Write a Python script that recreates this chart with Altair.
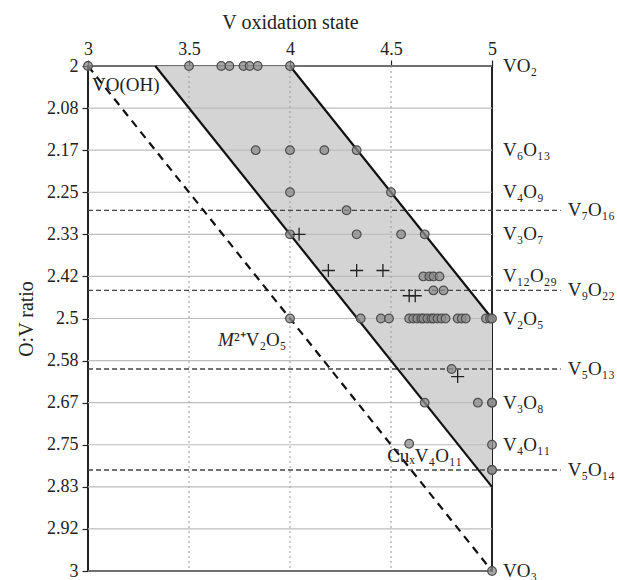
import altair as alt
import pandas as pd

FONT = "Liberation Serif"

# ---- axis ticks ----
y_ticks = [2.0, 2.0833, 2.1667, 2.25, 2.3333, 2.4167, 2.5, 2.5833, 2.6667, 2.75, 2.8333, 2.9167, 3.0]
x_ticks = [3, 3.5, 4, 4.5, 5]
x_dotted = [3.5, 4, 4.5]

# ---- circles (V oxidation state, O:V ratio) ----
circ_ox = [3.0, 3.5, 3.66, 3.70, 3.77, 3.80, 3.84, 4.0,
           3.83, 4.0, 4.17, 4.33,
           4.0, 4.5,
           4.28,
           4.0, 4.33, 4.55, 4.667,
           4.66, 4.69, 4.71, 4.74,
           4.71, 4.76,
           4.0, 4.35, 4.45, 4.49, 4.59, 4.61, 4.63, 4.65, 4.66, 4.68, 4.70, 4.71, 4.73, 4.75, 4.77,
           4.83, 4.85, 4.87, 4.97, 4.99, 5.0,
           4.80,
           4.667, 4.93, 5.0, 5.0,
           4.59, 5.0,
           5.0, 5.0,
           5.0]
circ_r = [2.0] * 8 + [2.1667] * 4 + [2.25] * 2 + [2.2857] + [2.3333] * 4 + [2.4167] * 4 + \
         [2.4444] * 2 + [2.5] * 21 + [2.6] + [2.6667] * 4 + [2.748, 2.75] + [2.8] * 2 + [3.0]

# ---- plus markers ----
plus_ox = [4.045, 4.19, 4.33, 4.46, 4.59, 4.62, 4.83]
plus_r = [2.3333, 2.405, 2.405, 2.405, 2.455, 2.455, 2.615]

# ---- shaded region ----
region_r = [2.0, 2.5, 2.8333]
region_left = [3.3333, 4.3333, 5.0]
region_right = [4.0, 5.0, 5.0]

# ---- boundary lines ----
bound_x1 = [3.3333, 4.0]
bound_r1 = [2.0, 2.0]
bound_x2 = [5.0, 5.0]
bound_r2 = [2.8333, 2.5]

mv_x1 = [3.0]
mv_r1 = [2.0]
mv_x2 = [5.0]
mv_r2 = [3.0]

# ---- labels ----
phase_labels = ["VO₂", "V₆O₁₃", "V₄O₉", "V₃O₇", "V₁₂O₂₉", "V₂O₅", "V₃O₈", "V₄O₁₁", "VO₃"]
phase_r = [2.0, 2.1667, 2.25, 2.3333, 2.4167, 2.5, 2.6667, 2.75, 3.0]

extra_labels = ["V₇O₁₆", "V₉O₂₂", "V₅O₁₃", "V₅O₁₄"]
extra_r = [2.2857, 2.4444, 2.6, 2.8]
extra_end = 5.34

xs = alt.Scale(domain=[3, 5], nice=False, zero=False)
ys = alt.Scale(domain=[2, 3], reverse=True, nice=False, zero=False)
xaxis = alt.Axis(orient="top", values=x_ticks, format="~g", title="V oxidation state",
                 grid=False, domain=False, labelFlush=False, labelOverlap=False,
                 labelPadding=2, titlePadding=8)
yaxis = alt.Axis(values=y_ticks, format=".3~r", title="O:V ratio", grid=False, domain=False,
                 labelFlush=False, labelOverlap=False, labelPadding=4, titlePadding=10)

X = alt.X("x:Q", scale=xs, axis=xaxis)
Y = alt.Y("y:Q", scale=ys, axis=yaxis)

df_region = pd.DataFrame({"y": region_r, "x": region_left, "x2": region_right})
area = alt.Chart(df_region).mark_area(orient="horizontal", color="#d4d4d4").encode(
    y=Y, x=X, x2="x2:Q")

df_grid = pd.DataFrame({"y": y_ticks, "x": [3] * len(y_ticks), "x2": [5] * len(y_ticks)})
grid = alt.Chart(df_grid).mark_rule(color="#bdbdbd", strokeWidth=1.2).encode(y=Y, x=X, x2="x2:Q")

df_dot = pd.DataFrame({"x": x_dotted, "y": [2] * 3, "y2": [3] * 3})
dots = alt.Chart(df_dot).mark_rule(color="#9a9a9a", strokeDash=[2, 3], strokeWidth=1).encode(
    x=X, y=Y, y2="y2:Q")

df_extra = pd.DataFrame({"y": extra_r, "x": [3] * 4, "x2": [extra_end] * 4, "label": extra_labels})
extra_lines = alt.Chart(df_extra).mark_rule(color="#444", strokeDash=[5, 3], strokeWidth=1.3).encode(
    y=Y, x=X, x2="x2:Q")
extra_text = alt.Chart(df_extra).mark_text(align="left", baseline="middle", dx=7, font=FONT,
                                           fontSize=19, color="#222").encode(
    x="x2:Q", y=Y, text="label:N")

df_bound = pd.DataFrame({"x": bound_x1, "y": bound_r1, "x2": bound_x2, "y2": bound_r2})
bounds = alt.Chart(df_bound).mark_rule(color="#111", strokeWidth=2.2).encode(
    x=X, y=Y, x2="x2:Q", y2="y2:Q")

df_mv = pd.DataFrame({"x": mv_x1, "y": mv_r1, "x2": mv_x2, "y2": mv_r2})
mvline = alt.Chart(df_mv).mark_rule(color="#111", strokeWidth=2.2, strokeDash=[8, 6]).encode(
    x=X, y=Y, x2="x2:Q", y2="y2:Q")

df_circ = pd.DataFrame({"x": circ_ox, "y": circ_r})
circles = alt.Chart(df_circ).mark_circle(size=75, fill="#8c8c8c", fillOpacity=0.75, opacity=1,
                                         stroke="#4d4d4d", strokeWidth=1.2).encode(x=X, y=Y)

df_plus = pd.DataFrame({"x": plus_ox, "y": plus_r})
pluses = alt.Chart(df_plus).mark_point(shape="M-1,0L1,0M0,-1L0,1", size=169, filled=False,
                                       stroke="#222", strokeWidth=1.3, opacity=1).encode(x=X, y=Y)

df_phase = pd.DataFrame({"x": [5.0] * len(phase_r), "y": phase_r, "label": phase_labels})
phase_text = alt.Chart(df_phase).mark_text(align="left", baseline="middle", dx=11, font=FONT,
                                           fontSize=19, color="#222").encode(
    x=X, y=Y, text="label:N")

df_vooh = pd.DataFrame({"x": [3.0], "y": [2.0], "label": ["VO(OH)"]})
vooh = alt.Chart(df_vooh).mark_text(align="left", baseline="middle", dx=4, dy=19, font=FONT,
                                    fontSize=19, color="#222").encode(x=X, y=Y, text="label:N")

df_m = pd.DataFrame({"x": [4.0], "y": [2.5], "label": ["M"]})
m_text = alt.Chart(df_m).mark_text(align="left", baseline="middle", dx=-72, dy=21, font=FONT,
                                   fontSize=19, fontStyle="italic", color="#222").encode(
    x=X, y=Y, text="label:N")
df_m2 = pd.DataFrame({"x": [4.0], "y": [2.5], "label": ["²⁺V₂O₅"]})
m2_text = alt.Chart(df_m2).mark_text(align="left", baseline="middle", dx=-56, dy=21, font=FONT,
                                     fontSize=19, color="#222").encode(x=X, y=Y, text="label:N")

df_cu = pd.DataFrame({"x": [4.59], "y": [2.748], "label": ["CuₓV₄O₁₁"]})
cu_text = alt.Chart(df_cu).mark_text(align="left", baseline="middle", dx=-22, dy=12, font=FONT,
                                     fontSize=19, color="#222").encode(x=X, y=Y, text="label:N")

chart = alt.layer(area, grid, dots, extra_lines, bounds, mvline, circles, pluses,
                  phase_text, extra_text, vooh, m_text, m2_text, cu_text).properties(
    width=404, height=505,
    autosize=alt.AutoSizeParams(type="none"),
    padding={"left": 88, "top": 66, "right": 125, "bottom": 9},
).configure_view(stroke="#222", strokeWidth=2).configure_axis(
    labelFont=FONT, labelFontSize=18, titleFont=FONT, titleFontSize=20,
    titleFontWeight="normal", labelColor="#222", titleColor="#222",
    tickColor="#222", tickSize=6, tickWidth=1.2)

chart.save("out.html", embed_options={"renderer": "svg", "actions": False})
